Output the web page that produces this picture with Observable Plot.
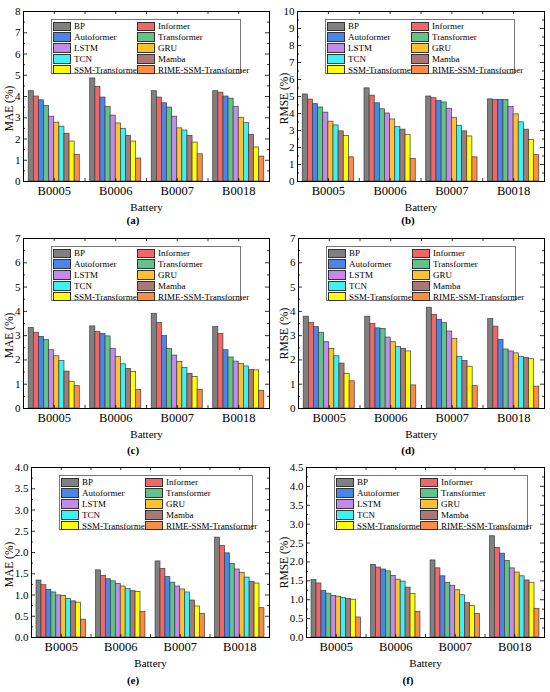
<!DOCTYPE html>
<html><head><meta charset="utf-8">
<script src="https://cdn.jsdelivr.net/npm/d3@7"></script>
<script src="https://cdn.jsdelivr.net/npm/@observablehq/plot@0.6"></script>
<style>
body{margin:0;background:#fff;width:550px;height:692px;overflow:hidden}
#grid{display:grid;grid-template-columns:275px 275px;grid-template-rows:230px 230px 232px}
.panel{position:relative;width:275px;overflow:hidden}
.panel svg{display:block}
.legend{position:absolute;border:1px solid #777;background:#fff;font-family:"Liberation Serif","Times New Roman",serif;font-size:9px;color:#000;display:grid;grid-template-columns:84px auto;padding:1px 0 0 1px;box-sizing:border-box}
.item{display:flex;align-items:center;height:10.8px;white-space:nowrap}
.sw{width:16px;height:7.5px;border:1px solid #333;margin-right:3px;flex:none}
.cap{position:absolute;left:0;width:266px;text-align:center;font-family:"Liberation Serif","Times New Roman",serif;font-weight:bold;font-size:11px;line-height:14px}
</style></head>
<body><div id="grid"></div>
<script>
const batteries = ["B0005","B0006","B0007","B0018"];
const models = ["BP","Informer","Autoformer","Transformer","LSTM","GRU","TCN","Mamba","SSM-Transformer","RIME-SSM-Transformer"];
const colors = ["#808080","#f26666","#4a86e8","#5fc38a","#c28be9","#ffc12e","#3cf3f3","#a97775","#ffff00","#f98c47"];

// values per battery, in model order
const maeA = [[4.25,4.0,3.82,3.55,3.05,2.77,2.58,2.25,1.88,1.25],[4.85,4.45,3.95,3.5,3.1,2.73,2.48,2.15,1.88,1.08],[4.25,3.95,3.68,3.48,3.05,2.5,2.4,2.15,1.83,1.28],[4.25,4.18,4.0,3.9,3.5,3.0,2.75,2.2,1.6,1.17]];
const rmseB = [[5.12,4.82,4.55,4.35,4.05,3.52,3.3,2.95,2.68,1.42],[5.48,5.05,4.6,4.25,4.0,3.65,3.2,3.05,2.75,1.33],[5.0,4.9,4.75,4.65,4.28,3.75,3.28,2.95,2.65,1.42],[4.83,4.8,4.8,4.8,4.38,3.95,3.48,3.05,2.45,1.55]];
const maeC = [[3.32,3.12,2.95,2.82,2.4,2.15,1.95,1.52,1.1,0.92],[3.38,3.15,3.07,2.97,2.45,2.12,1.82,1.63,1.5,0.77],[3.9,3.52,2.98,2.45,2.18,1.92,1.67,1.43,1.3,0.77],[3.35,3.07,2.4,2.1,1.93,1.83,1.73,1.58,1.57,0.73]];
const rmseD = [[3.78,3.53,3.35,3.12,2.73,2.45,2.15,1.85,1.42,1.12],[3.78,3.48,3.3,3.27,2.92,2.73,2.53,2.45,2.35,0.95],[4.15,3.85,3.65,3.52,3.17,2.87,2.13,1.95,1.72,0.92],[3.68,3.37,2.83,2.43,2.35,2.27,2.13,2.08,2.03,0.9]];
const maeE = [[1.34,1.23,1.12,1.06,0.99,0.98,0.91,0.85,0.82,0.42],[1.58,1.45,1.37,1.32,1.26,1.2,1.14,1.09,1.07,0.6],[1.79,1.61,1.42,1.29,1.2,1.13,1.06,0.87,0.73,0.55],[2.35,2.15,1.98,1.73,1.6,1.52,1.41,1.31,1.27,0.69]];
const rmseF = [[1.52,1.43,1.23,1.16,1.1,1.08,1.05,1.02,1.0,0.53],[1.92,1.85,1.8,1.75,1.63,1.53,1.48,1.32,1.15,0.68],[2.04,1.83,1.62,1.45,1.37,1.25,1.12,0.92,0.83,0.62],[2.68,2.37,2.22,2.03,1.83,1.72,1.62,1.51,1.45,0.76]];

const panels = [
  {tag:"(a)", label:"MAE (%)",  values:maeA,  ymax:8,   step:1,   fmt:d3.format("d"),   ml:23, mt:11, ldy:12},
  {tag:"(b)", label:"RMSE (%)", values:rmseB, ymax:10,  step:1,   fmt:d3.format("d"),   ml:22, mt:11, ldy:2},
  {tag:"(c)", label:"MAE (%)",  values:maeC,  ymax:7,   step:1,   fmt:d3.format("d"),   ml:23, mt:8,  ldy:12},
  {tag:"(d)", label:"RMSE (%)", values:rmseD, ymax:7,   step:1,   fmt:d3.format("d"),   ml:23, mt:8,  ldy:10},
  {tag:"(e)", label:"MAE (%)",  values:maeE,  ymax:4,   step:0.5, fmt:d3.format(".1f"), ml:31, mt:7,  ldy:12},
  {tag:"(f)", label:"RMSE (%)", values:rmseF, ymax:4.5, step:0.5, fmt:d3.format(".1f"), ml:31, mt:7,  ldy:10}
];

const SERIF = "Liberation Serif, Times New Roman, serif";
const grid = document.getElementById("grid");
const W = 275, MR = 6, PH = 170, MB = 34;
const bw = 0.083;

panels.forEach(p => {
  const data = [];
  p.values.forEach((row, bi) => row.forEach((v, mi) => {
    const x1 = bi + 1 + (mi - 5) * bw;
    data.push({battery: batteries[bi], model: models[mi], value: v, x1, x2: x1 + bw});
  }));
  const yMajor = d3.range(0, p.ymax + 1e-9, p.step);
  const yMinor = d3.range(p.step / 2, p.ymax, p.step);
  const xMinor = d3.range(0.5, 4.5 + 1e-9, 0.5).filter(d => d > 0.5 && d < 4.5);
  const pw = W - p.ml - MR;
  const ux = 4 / pw;          // x data units per pixel
  const uy = p.ymax / PH;     // y data units per pixel
  const H = p.mt + PH + MB;

  const chart = Plot.plot({
    width: W, height: H,
    marginTop: p.mt, marginBottom: MB, marginLeft: p.ml, marginRight: MR,
    style: {fontFamily: SERIF, fontSize: "11px", color: "#000", background: "white", overflow: "visible"},
    x: {domain: [0.5, 4.5]},
    y: {domain: [0, p.ymax]},
    color: {domain: models, range: colors},
    marks: [
      Plot.rectY(data, {x1: "x1", x2: "x2", y: "value", fill: "model", stroke: "#3d3d3d", strokeWidth: 0.7}),
      // inward ticks
      Plot.ruleY(yMajor, {y: d => d, x1: 0.5, x2: 0.5 + 4 * ux, stroke: "#000", strokeWidth: 0.8}),
      Plot.ruleY(yMinor, {y: d => d, x1: 0.5, x2: 0.5 + 2 * ux, stroke: "#000", strokeWidth: 0.8}),
      Plot.ruleY(yMajor, {y: d => d, x1: 4.5 - 4 * ux, x2: 4.5, stroke: "#000", strokeWidth: 0.8}),
      Plot.ruleY(yMinor, {y: d => d, x1: 4.5 - 2 * ux, x2: 4.5, stroke: "#000", strokeWidth: 0.8}),
      Plot.ruleX(xMinor, {x: d => d, y1: 0, y2: 3 * uy, stroke: "#000", strokeWidth: 0.8}),
      Plot.ruleX(xMinor, {x: d => d, y1: p.ymax - 3 * uy, y2: p.ymax, stroke: "#000", strokeWidth: 0.8}),
      Plot.frame({stroke: "#000", strokeWidth: 1}),
      Plot.axisY({ticks: yMajor, tickFormat: p.fmt, tickSize: 0, tickPadding: 3, fontSize: 11, fontFamily: SERIF, label: null}),
      Plot.axisX({ticks: [1, 2, 3, 4], tickFormat: d => batteries[d - 1], tickSize: 0, tickPadding: 5, fontSize: 12.5, fontFamily: SERIF, label: null}),
      Plot.text(["Battery"], {frameAnchor: "bottom", dy: 26, lineAnchor: "middle", fontFamily: SERIF, fontSize: 11, fill: "#000"}),
      Plot.text([p.label], {frameAnchor: "left", rotate: -90, dx: -(p.ml - 8.5), dy: p.ldy, lineAnchor: "middle", textAnchor: "middle", fontFamily: SERIF, fontSize: 11.5, fill: "#000"})
    ]
  });

  const panel = document.createElement("div");
  panel.className = "panel";
  panel.appendChild(chart);

  const lg = document.createElement("div");
  lg.className = "legend";
  lg.style.left = (p.ml + 28) + "px";
  lg.style.top = (p.mt + 8) + "px";
  lg.style.width = (p.ml > 25 ? 194 : 190) + "px";
  lg.style.height = "55px";
  models.forEach((m, i) => {
    const it = document.createElement("div");
    it.className = "item";
    const sw = document.createElement("span");
    sw.className = "sw";
    sw.style.background = colors[i];
    it.appendChild(sw);
    it.appendChild(document.createTextNode(m));
    lg.appendChild(it);
  });
  panel.appendChild(lg);

  const cap = document.createElement("div");
  cap.className = "cap";
  cap.style.top = "213px";
  cap.textContent = p.tag;
  panel.appendChild(cap);

  grid.appendChild(panel);
});
</script>
</body></html>
